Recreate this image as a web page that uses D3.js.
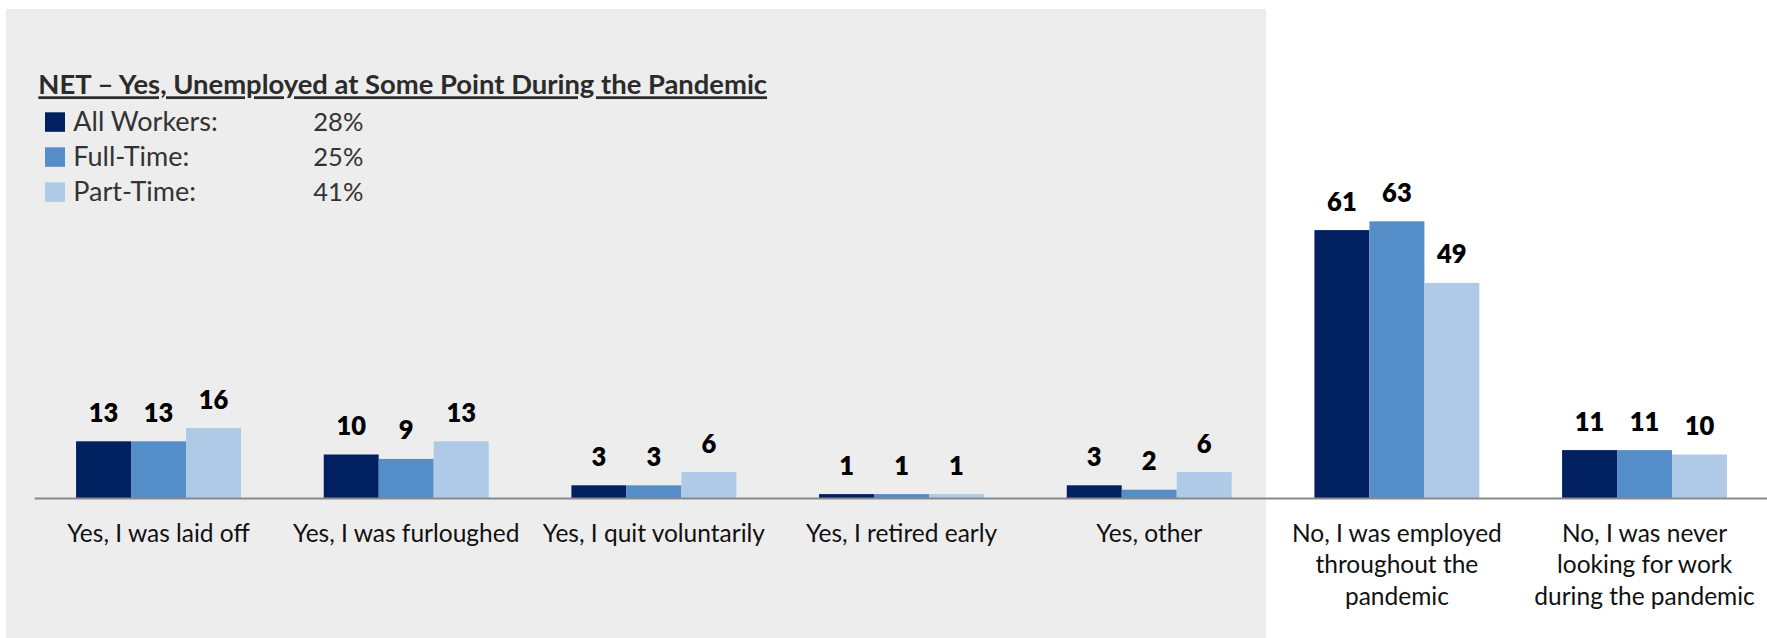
<!DOCTYPE html>
<html>
<head>
<meta charset="utf-8">
<script src="https://cdn.jsdelivr.net/npm/d3@7"></script>
<style>
  html, body { margin: 0; padding: 0; background: #ffffff; }
  svg { display: block; font-family: Lato, "Open Sans", sans-serif; }
</style>
</head>
<body>
<svg id="chart" width="1767" height="638"></svg>
<script>
// ---- Data ----
const categories = [
  "Yes, I was laid off",
  "Yes, I was furloughed",
  "Yes, I quit voluntarily",
  "Yes, I retired early",
  "Yes, other",
  "No, I was employed throughout the pandemic",
  "No, I was never looking for work during the pandemic"
];
const categoryLines = [
  ["Yes, I was laid off"],
  ["Yes, I was furloughed"],
  ["Yes, I quit voluntarily"],
  ["Yes, I retired early"],
  ["Yes, other"],
  ["No, I was employed", "throughout the", "pandemic"],
  ["No, I was never", "looking for work", "during the pandemic"]
];
const seriesNames = ["All Workers", "Full-Time", "Part-Time"];
const allWorkers = [13, 10, 3, 1, 3, 61, 11];
const fullTime   = [13, 9, 3, 1, 2, 63, 11];
const partTime   = [16, 13, 6, 1, 6, 49, 10];
const netTitle = "NET \u2013 Yes, Unemployed at Some Point During the Pandemic";
const netLabels = ["All Workers:", "Full-Time:", "Part-Time:"];
const netValues = ["28%", "25%", "41%"];
const colors = ["#002060", "#558DC8", "#AFCAE6"];

const seriesValues = [allWorkers, fullTime, partTime];

// ---- Layout ----
const svg = d3.select("#chart");
const axisY = 498.5;

// gray panel behind the "Yes" categories
svg.append("rect")
  .attr("x", 6).attr("y", 9)
  .attr("width", 1260).attr("height", 629)
  .attr("fill", "#EDEDED");

const x0 = d3.scaleBand()
  .domain(categories)
  .range([34.7, 1768.4])
  .paddingInner(0.334)
  .paddingOuter(0.167);

const x1 = d3.scaleBand()
  .domain(seriesNames)
  .range([0, x0.bandwidth()])
  .padding(0);

const y = d3.scaleLinear().domain([0, 100]).range([axisY, axisY - 440]);

// bars
const groups = svg.append("g").selectAll("g.grp")
  .data(categories)
  .join("g")
  .attr("class", "grp")
  .attr("transform", d => `translate(${x0(d)},0)`);

groups.selectAll("rect")
  .data((c, i) => seriesNames.map((s, j) => ({ s, j, v: seriesValues[j][i] })))
  .join("rect")
  .attr("x", d => x1(d.s))
  .attr("y", d => y(d.v))
  .attr("width", x1.bandwidth())
  .attr("height", d => y(0) - y(d.v))
  .attr("fill", d => colors[d.j]);

groups.selectAll("text.val")
  .data((c, i) => seriesNames.map((s, j) => ({ s, j, v: seriesValues[j][i] })))
  .join("text")
  .attr("class", "val")
  .attr("x", d => x1(d.s) + x1.bandwidth() / 2)
  .attr("y", d => y(d.v) - 19.5)
  .attr("text-anchor", "middle")
  .attr("font-size", 25.5)
  .attr("font-weight", 800)
  .attr("fill", "#000")
  .text(d => d.v);

// axis line
const xAxis = d3.axisBottom(x0).tickSize(0).tickFormat("");
const axG = svg.append("g").attr("transform", `translate(0,${axisY})`).call(xAxis);
axG.select(".domain").attr("stroke", "#898989").attr("stroke-width", 2.2)
  .attr("d", `M34.7,0H1767`);

// category labels
svg.append("g").selectAll("text.cat")
  .data(categories)
  .join("text")
  .attr("class", "cat")
  .attr("x", d => x0(d) + x0.bandwidth() / 2)
  .attr("y", 541.7)
  .attr("text-anchor", "middle")
  .attr("font-size", 24.5)
  .attr("fill", "#111")
  .each(function(d, i) {
    const t = d3.select(this);
    categoryLines[i].forEach((line, k) => {
      t.append("tspan")
        .attr("x", x0(d) + x0.bandwidth() / 2)
        .attr("dy", k === 0 ? 0 : 31.7)
        .text(line);
    });
  });

// title (NET)
svg.append("text")
  .attr("x", 38.3).attr("y", 94.3)
  .attr("font-size", 27.4)
  .attr("font-weight", 700)
  .attr("fill", "#2b2b2b")
  .attr("text-decoration", "underline")
  .text(netTitle);

// legend
const leg = svg.append("g");
const legRows = leg.selectAll("g")
  .data(netLabels)
  .join("g")
  .attr("transform", (d, i) => `translate(0,${112.3 + i * 35})`);
legRows.append("rect")
  .attr("x", 45).attr("y", 0)
  .attr("width", 20).attr("height", 19.5)
  .attr("fill", (d, i) => colors[i]);
legRows.append("text")
  .attr("x", 73.3).attr("y", 18.5)
  .attr("font-size", 27)
  .attr("fill", "#333")
  .text(d => d);
legRows.append("text")
  .attr("x", 313.3).attr("y", 18.5)
  .attr("font-size", 25.5)
  .attr("fill", "#333")
  .text((d, i) => netValues[i]);
</script>
</body>
</html>
